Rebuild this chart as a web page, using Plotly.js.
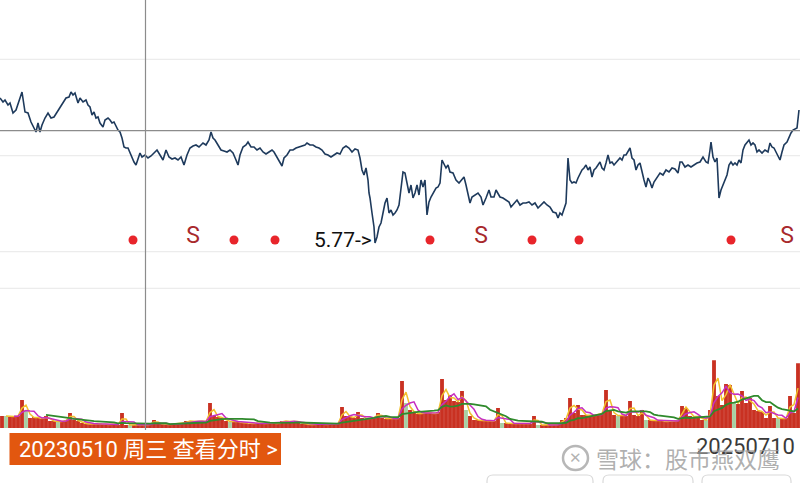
<!DOCTYPE html>
<html>
<head>
<meta charset="utf-8">
<script src="https://cdn.plot.ly/plotly-3.0.1.min.js"></script>
<style>html,body{margin:0;padding:0;background:#fff;}#chart{width:800px;height:483px;}</style>
</head>
<body>
<div id="chart"></div>
<script>
// trading-day index (0..800 spans 20230101..20250710 window) and close price
const priceDays = [0,3,5,8,10,13,16,19,22,25,28,31,34,36,38,40,42,45,48,51,54,57,60,63,66,69,71,73,75,78,80,83,86,88,90,92,94,96,98,100,103,105,108,110,112,114,116,118,120,122,124,126,128,130,132,134,136,138,140,142,145,148,151,154,157,160,163,166,169,172,175,178,181,184,187,190,193,196,199,
203,206,209,211,213,215,218,221,224,227,230,233,236,238,240,243,246,248,251,254,257,260,263,266,269,272,274,277,280,282,284,287,290,293,296,299,302,305,307,310,313,316,319,322,325,328,331,334,337,340,343,346,349,352,355,358,360,362,364,366,368,369,370,372,374,375,377,379,381,383,385,387,389,391,393,395,397,399,
401,403,405,407,409,411,413,415,417,419,421,423,425,427,429,431,433,436,438,440,442,444,446,448,450,453,456,459,462,464,466,468,470,472,475,478,481,483,486,489,491,494,496,498,500,503,506,509,511,514,517,520,523,526,529,532,535,538,541,544,547,550,553,556,558,560,562,564,566,567,568,570,572,574,576,578,580,582,584,586,588,590,592,594,596,598,
600,602,604,606,608,610,612,614,617,620,622,624,626,628,630,632,634,636,638,640,642,644,646,648,650,652,654,657,660,663,666,669,672,675,678,680,682,685,688,691,694,697,700,703,706,708,710,711,713,715,717,718,719,721,723,725,727,729,731,733,735,737,739,741,743,745,747,749,751,753,755,757,759,762,765,768,770,772,774,776,778,780,782,784,787,789,791,793,795,797,799];
const closePrice = [7.22,7.18,7.20,7.15,7.17,7.07,7.10,7.18,7.28,7.08,7.07,6.98,6.92,6.88,6.97,6.88,6.95,7.02,7.07,7.02,7.03,7.08,7.12,7.18,7.22,7.23,7.28,7.25,7.27,7.17,7.22,7.18,7.20,7.15,7.13,7.05,7.08,7.02,7.03,6.97,6.93,7.00,7.02,7.00,6.97,6.98,6.93,6.90,6.88,6.82,6.73,6.72,6.72,6.67,6.62,6.58,6.55,6.62,6.67,6.63,6.65,6.62,6.64,6.67,6.70,6.65,6.60,6.70,6.63,6.61,6.62,6.60,6.63,6.55,6.65,6.72,6.74,6.75,6.73,
6.77,6.75,6.80,6.88,6.82,6.80,6.75,6.70,6.69,6.68,6.70,6.67,6.60,6.55,6.65,6.73,6.75,6.78,6.73,6.73,6.70,6.72,6.68,6.66,6.68,6.70,6.68,6.63,6.58,6.54,6.62,6.65,6.70,6.70,6.72,6.73,6.74,6.75,6.77,6.75,6.75,6.73,6.72,6.70,6.66,6.65,6.63,6.65,6.67,6.66,6.72,6.74,6.72,6.68,6.71,6.70,6.62,6.50,6.45,6.52,6.40,6.27,6.22,6.07,5.93,5.77,5.83,5.93,5.97,6.07,6.17,6.22,6.07,6.10,6.05,6.07,6.10,6.15,
6.30,6.48,6.47,6.37,6.27,6.35,6.22,6.27,6.35,6.25,6.40,6.33,6.40,6.05,6.18,6.23,6.27,6.32,6.33,6.37,6.60,6.55,6.52,6.55,6.48,6.47,6.40,6.37,6.40,6.43,6.35,6.25,6.17,6.23,6.25,6.27,6.23,6.15,6.22,6.30,6.23,6.23,6.30,6.27,6.23,6.22,6.20,6.18,6.13,6.17,6.20,6.15,6.17,6.17,6.18,6.15,6.17,6.12,6.15,6.18,6.15,6.13,6.08,6.07,6.02,6.07,6.05,6.10,6.17,6.40,6.62,6.40,6.37,6.38,6.37,6.42,6.47,6.50,6.52,6.55,6.50,6.53,6.43,6.50,6.52,6.55,
6.58,6.52,6.50,6.57,6.65,6.57,6.58,6.55,6.58,6.62,6.60,6.65,6.65,6.68,6.72,6.62,6.60,6.50,6.55,6.57,6.47,6.40,6.33,6.42,6.38,6.32,6.38,6.42,6.47,6.45,6.50,6.48,6.52,6.51,6.47,6.58,6.58,6.53,6.55,6.53,6.55,6.57,6.58,6.63,6.58,6.57,6.70,6.78,6.63,6.58,6.62,6.47,6.22,6.30,6.35,6.38,6.45,6.55,6.58,6.55,6.57,6.55,6.60,6.57,6.70,6.75,6.77,6.80,6.75,6.77,6.75,6.68,6.70,6.67,6.70,6.68,6.77,6.73,6.72,6.68,6.65,6.60,6.68,6.75,6.78,6.83,6.87,6.90,6.91,6.92,7.10];

// volume (grouped bars)
const volDays = [];
for (let d = 2; d <= 798; d += 4) volDays.push(d);
const volume = [12,12,11,12,12,28,18,10,11,10,9,12,7,7,6,7,8,15,8,7,
5,4,4,5,4,4,3,4,4,3,15,3,3,3,4,3,3,4,8,4,
4,3,4,4,5,4,7,7,6,7,7,6,25,12,11,10,7,6,7,6,
5,5,4,5,5,4,5,5,4,5,7,7,6,7,6,4,4,3,4,4,
4,3,4,4,5,21,12,11,10,16,10,9,10,11,15,10,9,10,9,10,
47,25,18,15,14,15,16,15,14,16,49,28,33,27,26,37,18,12,8,8,
7,8,7,7,20,5,5,4,5,4,5,5,4,12,3,3,3,3,3,4,
8,10,30,15,23,13,13,12,13,14,15,38,18,13,12,13,12,27,13,12,
18,8,8,7,8,7,6,7,7,8,22,20,12,11,12,8,8,18,68,32,
23,44,43,25,24,37,25,30,18,17,16,10,22,10,10,9,10,32,15,65];
const downDays = [6,26,58,130,230,406,466,502,538,618,646,706,734,778];

// signals
const buyDays = [133,234,275,430,532,579,731];
const sellDays = [193,481,787];
const lowDay = 375, lowPrice = 5.77;
const selDate = '20230510 周三 查看分时 >';
const endDate = '20250710';
const watermark = '雪球：股市燕双鹰';

function ma(arr, n){
  return arr.map((v,i)=>{ if(i < n-1) return null; let s=0; for(let k=i-n+1;k<=i;k++) s+=arr[k]; return s/n; });
}

const volColors = volDays.map(d => downDays.includes(d) ? '#a9cfa3' : '#c93122');

const traces = [
  {type:'bar', x:volDays, y:volume, yaxis:'y2', marker:{color:volColors, line:{width:0}}, hoverinfo:'skip'},
  {type:'scatter', mode:'lines', x:volDays, y:ma(volume,2), yaxis:'y2', line:{color:'#f2c12e', width:1.5}, hoverinfo:'skip'},
  {type:'scatter', mode:'lines', x:volDays, y:ma(volume,4), yaxis:'y2', line:{color:'#c62fc0', width:1.5}, hoverinfo:'skip'},
  {type:'scatter', mode:'lines', x:volDays, y:ma(volume,12), yaxis:'y2', line:{color:'#2f8a2c', width:1.8}, hoverinfo:'skip'},
  {type:'scatter', mode:'lines', x:priceDays, y:closePrice, line:{color:'#1e3a5c', width:1.6}, hoverinfo:'skip'},
  {type:'scatter', mode:'markers', x:buyDays, y:buyDays.map(()=>5.80), marker:{color:'#e8252b', size:9}, hoverinfo:'skip'},
  {type:'scatter', mode:'text', x:sellDays, y:sellDays.map(()=>5.83), text:sellDays.map(()=>'S'), textfont:{family:'Roboto, sans-serif', size:23, color:'#a8292d'}, hoverinfo:'skip'}
];

function py(px){ return 1 - px/483; }
const grid = c => ({type:'line', xref:'paper', yref:'paper', x0:0, x1:1, y0:py(c), y1:py(c), line:{color:'#ececec', width:1.2}, layer:'below'});
function rrect(x0,y0,x1,y1,r){
  return {type:'path', xref:'paper', yref:'paper', layer:'above',
    path:`M ${(x0+r)/800},${py(y0)} L ${(x1-r)/800},${py(y0)} Q ${x1/800},${py(y0)} ${x1/800},${py(y0+r)} L ${x1/800},${py(y1)} L ${x0/800},${py(y1)} L ${x0/800},${py(y0+r)} Q ${x0/800},${py(y0)} ${(x0+r)/800},${py(y0)} Z`,
    line:{color:'#d9d9d9', width:1.2}, fillcolor:'#ffffff'};
}

const layout = {
  width:800, height:483,
  margin:{l:0,r:0,t:0,b:0},
  paper_bgcolor:'#ffffff', plot_bgcolor:'#ffffff',
  showlegend:false, bargap:0.04,
  xaxis:{range:[0,800], showgrid:false, zeroline:false, showticklabels:false, ticks:'', showline:false, fixedrange:true},
  yaxis:{domain:[py(252),1], range:[5.68,8.20], showgrid:false, zeroline:false, showticklabels:false, ticks:'', showline:false},
  yaxis2:{domain:[py(428),py(288.3)], range:[0,140], anchor:'x', showgrid:false, zeroline:false, showticklabels:false, ticks:'', showline:false},
  shapes:[
    grid(59.3), grid(155.7), grid(251.7), grid(288.3),
    {type:'line', xref:'paper', yref:'paper', x0:0, x1:1, y0:py(130.7), y1:py(130.7), line:{color:'#8c8c8c', width:1.2}},
    {type:'line', xref:'x', yref:'paper', x0:145.5, x1:145.5, y0:py(430), y1:1, line:{color:'#8c8c8c', width:1.2}},
    {type:'rect', xref:'paper', yref:'paper', x0:9.5/800, x1:281/800, y0:py(465), y1:py(433), fillcolor:'#e2570f', line:{width:0}},
    {type:'circle', xref:'paper', yref:'paper', x0:563/800, x1:588/800, y0:py(470), y1:py(446), line:{color:'rgba(170,170,170,0.85)', width:2.5}},
    rrect(487,475,593,500,6), rrect(603,475,693,500,6), rrect(702,475,791,500,6)
  ],
  annotations:[
    {x:lowDay, y:lowPrice, xref:'x', yref:'y', text:lowPrice.toFixed(2)+'->', showarrow:false, xanchor:'right', yanchor:'middle', xshift:-1, yshift:3, font:{family:'Roboto, sans-serif', size:21, color:'#111'}},
    {x:17/800, y:py(449), xref:'paper', yref:'paper', text:selDate, showarrow:false, xanchor:'left', yanchor:'middle', font:{family:'Roboto, "Noto Sans CJK SC", sans-serif', size:22, color:'#ffffff'}},
    {x:797/800, y:py(446), xref:'paper', yref:'paper', text:endDate, showarrow:false, xanchor:'right', yanchor:'middle', font:{family:'Roboto, sans-serif', size:22, color:'#3a3a3a'}},
    {x:575/800, y:py(458), xref:'paper', yref:'paper', text:'✕', showarrow:false, xanchor:'center', yanchor:'middle', font:{family:'DejaVu Sans, sans-serif', size:15, color:'rgba(165,165,165,0.85)'}},
    {x:594/800, y:py(458), xref:'paper', yref:'paper', text:watermark, showarrow:false, xanchor:'left', yanchor:'middle', font:{family:'"Noto Sans CJK SC", sans-serif', size:23, color:'rgba(155,155,155,0.8)'}}
  ]
};

Plotly.newPlot('chart', traces, layout, {staticPlot:true, displayModeBar:false});
</script>
</body>
</html>
